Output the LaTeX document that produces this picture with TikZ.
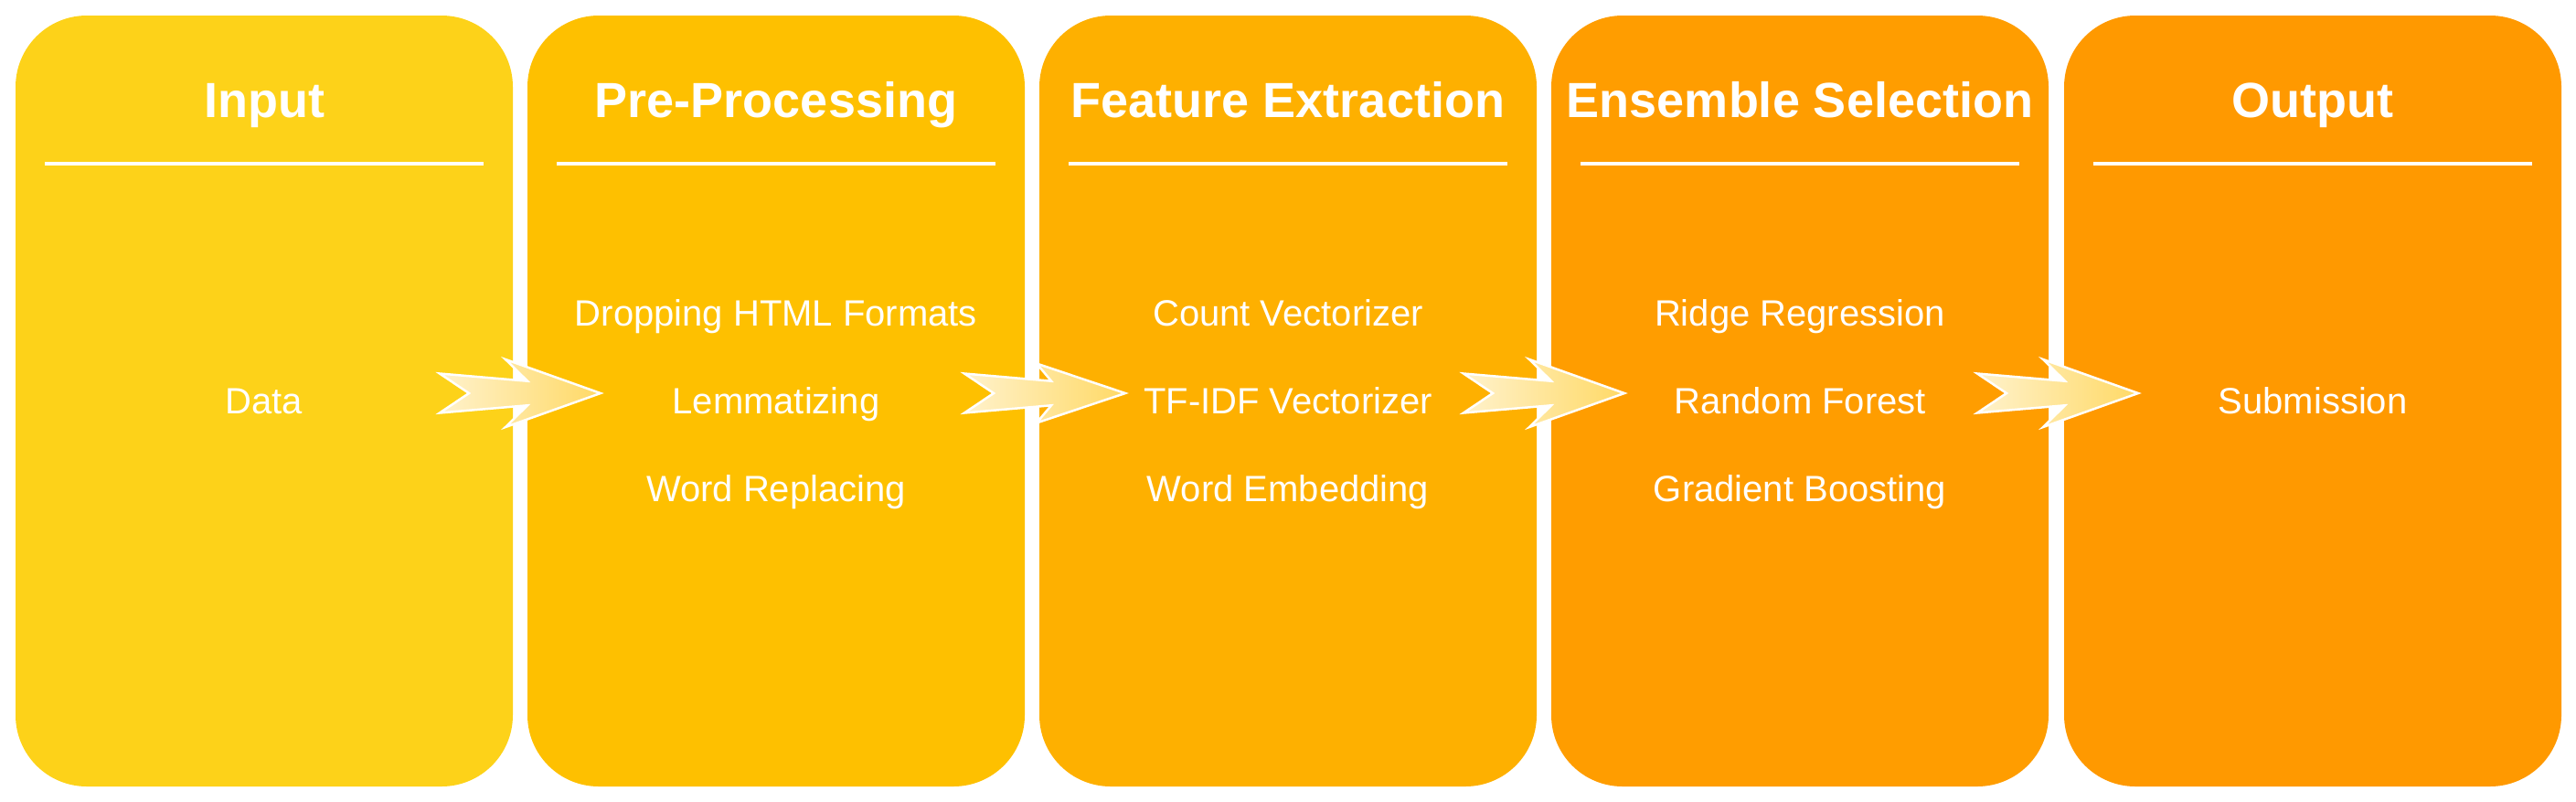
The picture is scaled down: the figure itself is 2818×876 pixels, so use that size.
\documentclass[tikz,border=0pt]{standalone}
\usepackage{fontspec}
\setmainfont{Liberation Sans}
\definecolor{cA}{RGB}{253,210,25}
\definecolor{cB}{RGB}{254,192,0}
\definecolor{cC}{RGB}{254,176,0}
\definecolor{cD}{RGB}{255,157,0}
\definecolor{cE}{RGB}{255,153,0}
\definecolor{arL}{HTML}{FFF2CC}
\definecolor{arR}{HTML}{FFD966}
\tikzset{
  stage/.style={rectangle, draw=none, rounded corners=78pt, minimum width=544pt, minimum height=843pt, inner sep=0pt},
  ttl/.style={anchor=base, text=white, font=\fontsize{54}{60}\selectfont\bfseries, inner sep=0pt},
  item/.style={anchor=base, text=white, font=\fontsize{40}{46}\selectfont, inner sep=0pt},
  sepline/.style={draw=white, line width=4pt},
  fatarrow/.style={draw=white, line width=2.5pt, line join=miter, left color=arL, right color=arR}
}
\newcommand\FatArrow[4]{%
  \draw[fatarrow] (0,-21.5) -- (#1,-13.3) -- (#2,-#4) -- (#3,0) -- (#2,#4) -- (#1,13.3) -- (0,21.5) -- (32,0) -- cycle;}
\begin{document}
\begin{tikzpicture}[x=1pt,y=-1pt]
\useasboundingbox (0,0) rectangle (2818,876);
% stages
\node[stage, fill=cA] (b1) at (289,438.5) {};
\node[stage, fill=cB] (b2) at (849,438.5) {};
\node[stage, fill=cC] (b3) at (1409,438.5) {};
\node[stage, fill=cD] (b4) at (1969,438.5) {};
\node[stage, fill=cE] (b5) at (2530,438.5) {};
% titles
\node[ttl] (t1) at (289,128) {Input};
\node[ttl] (t2) at (849,128) {Pre-Processing};
\node[ttl] (t3) at (1409,128) {Feature Extraction};
\node[ttl] (t4) at (1969,128) {Ensemble Selection};
\node[ttl] (t5) at (2530,128) {Output};
% separators
\foreach \b in {b1,b2,b3,b4,b5}{
  \draw[sepline] ([shift={(32pt,-162pt)}]\b.north west) -- ([shift={(-32pt,-162pt)}]\b.north east);
}
% contents
\node[item] (i1) at (289,452.7) {Data};
\node[item] (i2a) at (849,356) {Dropping HTML Formats};
\node[item] (i2b) at (849,452.7) {Lemmatizing};
\node[item] (i2c) at (849,548) {Word Replacing};
\node[item] (i3a) at (1409,356) {Count Vectorizer};
\node[item] (i3b) at (1409,452.7) {TF-IDF Vectorizer};
\node[item] (i3c) at (1409,548) {Word Embedding};
\node[item] (i4a) at (1969,356) {Ridge Regression};
\node[item] (i4b) at (1969,452.7) {Random Forest};
\node[item] (i4c) at (1969,548) {Gradient Boosting};
\node[item] (i5) at (2530,452.7) {Submission};
% arrows
\coordinate (a1) at (481,430);
\coordinate (a2) at (1055,430);
\coordinate (a3) at (1601,430);
\coordinate (a4) at (2163,430);
\begin{scope}[shift={(a1)}]\FatArrow{96}{72}{176}{37}\end{scope}
\begin{scope}[shift={(a2)}]\FatArrow{95}{79}{176}{32.5}\end{scope}
\begin{scope}[shift={(a3)}]\FatArrow{96}{72}{176}{37}\end{scope}
\begin{scope}[shift={(a4)}]\FatArrow{96}{72}{176}{37}\end{scope}
\end{tikzpicture}
\end{document}
